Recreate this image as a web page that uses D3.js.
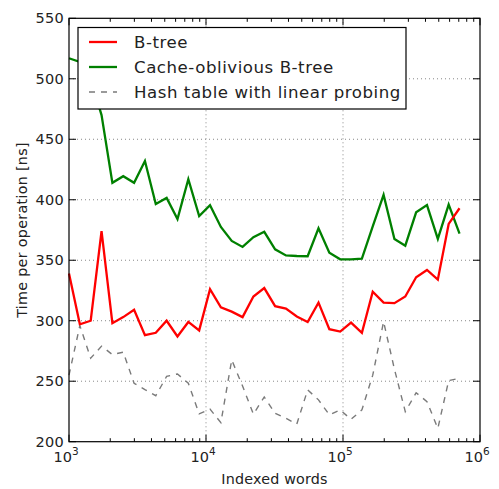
<!DOCTYPE html>
<html><head><meta charset="utf-8">
<script src="https://cdn.jsdelivr.net/npm/d3@7"></script>
<style>
body{margin:0;background:#fff;}
text{font-family:"DejaVu Sans",sans-serif;fill:#222;}
</style></head>
<body><svg id="c" width="499" height="489"></svg>
<script>
// x positions: 1000 * 1.2^k
const xExp = d3.range(37);
const btree = [339,297,300,374,298,303,309,288,290,300,287,299,292,326,311,307.5,303,320,327,312,310,303.5,299,315,293,291,298.5,290,324,315,314.5,320,336,342,334,380,393];
const cob = [517,514,500,470,414,419.5,414,432,396.5,401.5,384,417,386.5,395.5,377.5,366,361,369,373.5,359,354,353.5,353.3,376.4,356.3,350.8,350.8,351.3,378,404,367.6,362,389.6,395.6,367.6,396,372];
const hash = [255,296,269,279,272,274,248.3,243,238,254,256,248.3,223,227,215.7,267.6,246,222.8,237,223.4,219.3,214.6,242.8,234.6,222.2,226.3,218.5,226.3,255,299.2,260,224.8,240.5,233.1,211,250.5,252.4];
const seriesNames = ["B-tree","Cache-oblivious B-tree","Hash table with linear probing"];
const yTicks = [200,250,300,350,400,450,500,550];
const xTicks = [1e3,1e4,1e5,1e6];
const xTickExp = ["3","4","5","6"];

const xs = xExp.map(k => 1000*Math.pow(1.2,k));
const svg = d3.select("#c");
const L=69, R=480, T=18.3, B=441.7;
const x = d3.scaleLog().domain([1e3,1e6]).range([L,R]);
const y = d3.scaleLinear().domain([200,550]).range([B,T]);

// grid
const g = svg.append("g");
g.selectAll(".gx").data(xTicks.slice(1,-1)).join("line")
 .attr("x1",d=>x(d)).attr("x2",d=>x(d)).attr("y1",T).attr("y2",B)
 .attr("stroke","#888").attr("stroke-dasharray","1,3").attr("stroke-width",1);
g.selectAll(".gy").data(yTicks.slice(1,-1)).join("line")
 .attr("y1",d=>y(d)).attr("y2",d=>y(d)).attr("x1",L).attr("x2",R)
 .attr("stroke","#888").attr("stroke-dasharray","1,3").attr("stroke-width",1);

// lines
const line = d3.line().x((d,i)=>x(xs[i])).y(d=>y(d));
svg.append("path").datum(hash).attr("d",line).attr("fill","none")
 .attr("stroke","#7a7a7a").attr("stroke-width",1.4).attr("stroke-dasharray","6,6");
svg.append("path").datum(cob).attr("d",line).attr("fill","none")
 .attr("stroke","#008000").attr("stroke-width",2.3);
svg.append("path").datum(btree).attr("d",line).attr("fill","none")
 .attr("stroke","#ff0000").attr("stroke-width",2.3);

// ticks (inside, all four sides)
const minor=[];
for(let e=3;e<6;e++) for(let m=2;m<10;m++) minor.push(m*Math.pow(10,e));
const tk = svg.append("g").attr("stroke","#000").attr("stroke-width",1);
xTicks.forEach(d=>{
  tk.append("line").attr("x1",x(d)).attr("x2",x(d)).attr("y1",B).attr("y2",B-7);
  tk.append("line").attr("x1",x(d)).attr("x2",x(d)).attr("y1",T).attr("y2",T+7);
});
minor.forEach(d=>{
  tk.append("line").attr("x1",x(d)).attr("x2",x(d)).attr("y1",B).attr("y2",B-3.5);
  tk.append("line").attr("x1",x(d)).attr("x2",x(d)).attr("y1",T).attr("y2",T+3.5);
});
yTicks.forEach(d=>{
  tk.append("line").attr("y1",y(d)).attr("y2",y(d)).attr("x1",L).attr("x2",L+7);
  tk.append("line").attr("y1",y(d)).attr("y2",y(d)).attr("x1",R).attr("x2",R-7);
});
// frame
svg.append("rect").attr("x",L).attr("y",T).attr("width",R-L).attr("height",B-T)
 .attr("fill","none").attr("stroke","#000").attr("stroke-width",1.2);

// y tick labels
svg.selectAll(".yl").data(yTicks).join("text")
 .attr("x",L-5).attr("y",d=>y(d)+5).attr("text-anchor","end")
 .attr("font-size",14.5).attr("letter-spacing",0.3).text(d=>d);
// x tick labels
xTicks.forEach((d,i)=>{
  const t = svg.append("text").attr("x",x(d)-3).attr("y",462).attr("text-anchor","middle").attr("font-size",14.5);
  t.append("tspan").text("10");
  t.append("tspan").attr("dy",-7).attr("font-size",10.5).text(xTickExp[i]);
});
// axis labels
svg.append("text").attr("x",(L+R)/2).attr("y",484).attr("text-anchor","middle")
 .attr("font-size",14.3).attr("letter-spacing",0.2).text("Indexed words");
svg.append("text").attr("transform",`translate(27,${(T+B)/2}) rotate(-90)`)
 .attr("text-anchor","middle").attr("font-size",14.3).attr("letter-spacing",0.3).text("Time per operation [ns]");

// legend
const lg = svg.append("g");
lg.append("rect").attr("x",78).attr("y",27.5).attr("width",328).attr("height",81.5)
 .attr("fill","#fff").attr("stroke","#000").attr("stroke-width",1.2);
const styles=[{c:"#ff0000",w:2.3,da:null},{c:"#008000",w:2.3,da:null},{c:"#7a7a7a",w:1.4,da:"6,6"}];
seriesNames.forEach((n,i)=>{
  const yy = 42 + i*25;
  const l = lg.append("line").attr("x1",89).attr("x2",117).attr("y1",yy).attr("y2",yy)
    .attr("stroke",styles[i].c).attr("stroke-width",styles[i].w);
  if(styles[i].da) l.attr("stroke-dasharray",styles[i].da);
  lg.append("text").attr("x",134).attr("y",yy+6).attr("font-size",16.6).attr("letter-spacing",0.55).text(n);
});
</script></body></html>
